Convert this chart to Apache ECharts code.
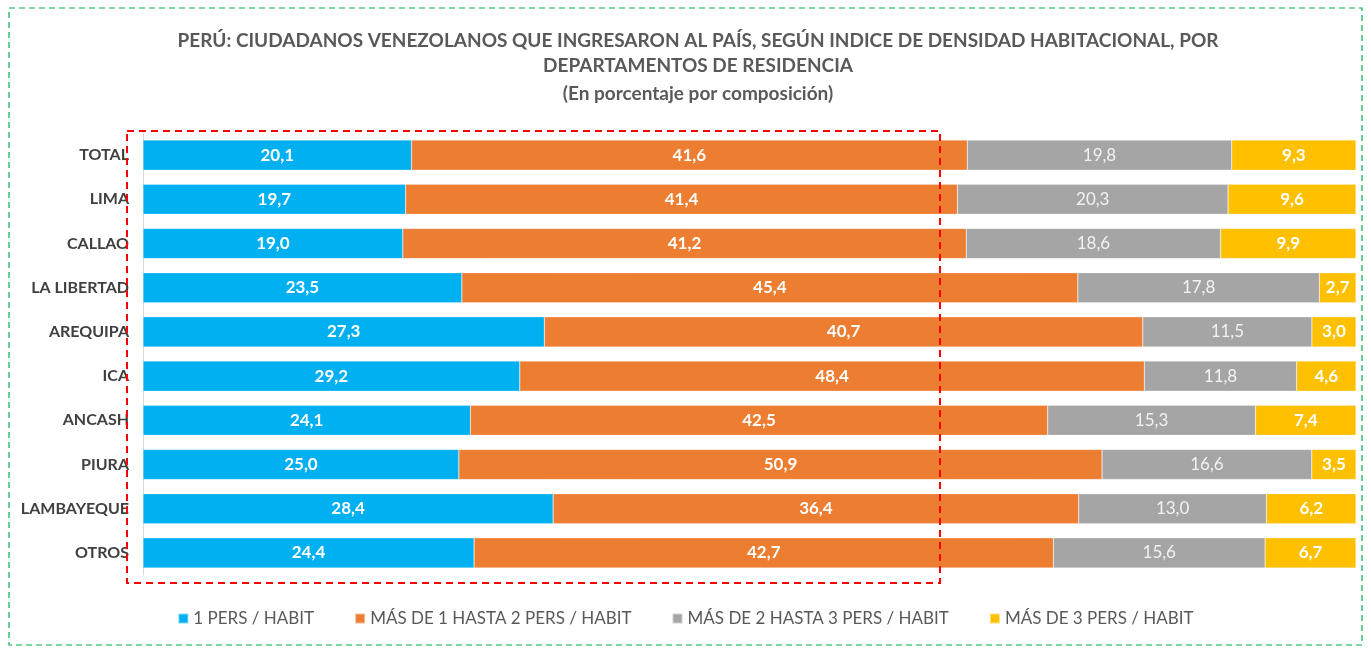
<!DOCTYPE html>
<html>
<head>
<meta charset="utf-8">
<script src="https://cdn.jsdelivr.net/npm/echarts@6/dist/echarts.min.js"></script>
<style>
html,body{margin:0;padding:0;background:#fff;}
#chart{width:1371px;height:649px;}
</style>
</head>
<body>
<div id="chart"></div>
<script>
const categories = ['TOTAL','LIMA','CALLAO','LA LIBERTAD','AREQUIPA','ICA','ANCASH','PIURA','LAMBAYEQUE','OTROS'];
const seriesNames = ['1 PERS / HABIT','MÁS DE 1 HASTA 2 PERS / HABIT','MÁS DE 2 HASTA 3 PERS / HABIT','MÁS DE 3 PERS / HABIT'];
const s1 = [20.1,19.7,19.0,23.5,27.3,29.2,24.1,25.0,28.4,24.4];
const s2 = [41.6,41.4,41.2,45.4,40.7,48.4,42.5,50.9,36.4,42.7];
const s3 = [19.8,20.3,18.6,17.8,11.5,11.8,15.3,16.6,13.0,15.6];
const s4 = [9.3,9.6,9.9,2.7,3.0,4.6,7.4,3.5,6.2,6.7];
const colors = ['#00B0F0','#ED7D31','#A5A5A5','#FFC000'];

const FONT = "Lato, sans-serif";
const raw = [s1,s2,s3,s4];
const totals = categories.map((c,i)=>raw.reduce((a,s)=>a+s[i],0));

const series = raw.map((arr,k)=>({
  name: seriesNames[k],
  type: 'bar',
  stack: 'all',
  barWidth: '68%',
  itemStyle: {color: colors[k], borderColor: 'rgba(255,255,255,0.5)', borderWidth: 0.5},
  label: {
    show: true,
    position: 'inside',
    color: k===2 ? '#F2F2F2' : '#FFFFFF',
    fontWeight: k===2 ? 'normal' : 'bold',
    fontSize: 17,
    fontFamily: FONT,
    formatter: p => p.data.raw.toFixed(1).replace('.', ',')
  },
  data: arr.map((v,i)=>({value: v/totals[i]*100, raw: v}))
}));

const chart = echarts.init(document.getElementById('chart'));
chart.setOption({
  animation: false,
  backgroundColor: '#fff',
  title: {
    text: 'PERÚ: CIUDADANOS VENEZOLANOS QUE INGRESARON AL PAÍS, SEGÚN INDICE DE DENSIDAD HABITACIONAL, POR\nDEPARTAMENTOS DE RESIDENCIA',
    subtext: '(En porcentaje por composición)',
    left: 693, textAlign: 'center',
    top: 23,
    itemGap: 3,
    textStyle: {fontFamily: FONT, fontSize: 19, fontWeight: 'bold', color: '#595959', lineHeight: 25},
    subtextStyle: {fontFamily: FONT, fontSize: 19, fontWeight: 'bold', color: '#595959', lineHeight: 25}
  },
  legend: {
    top: 605, left: 'center',
    itemWidth: 10, itemHeight: 10, itemGap: 40,
    icon: 'rect',
    textStyle: {fontFamily: FONT, fontSize: 17, color: '#595959'},
    data: seriesNames
  },
  grid: {left: 143, right: 15, top: 133, bottom: 74, containLabel: false},
  xAxis: {type: 'value', min: 0, max: 100, show: false},
  yAxis: {
    type: 'category', data: categories, inverse: true,
    axisLine: {show: true, lineStyle: {color: '#D9D9D9', width: 1}},
    axisTick: {show: false},
    axisLabel: {fontFamily: FONT, fontSize: 16, fontWeight: 'bold', color: '#404040', margin: 14}
  },
  graphic: [
    {type: 'rect', shape: {x: 9, y: 8, width: 1353, height: 637}, silent: true, z: 100,
     style: {fill: 'none', stroke: '#00B050', lineWidth: 1.2, lineDash: [6,4]}},
    {type: 'rect', shape: {x: 127, y: 131, width: 813, height: 452}, silent: true, z: 100,
     style: {fill: 'none', stroke: '#FF0000', lineWidth: 2, lineDash: [7,5]}}
  ],
  series: series
});
</script>
</body>
</html>
